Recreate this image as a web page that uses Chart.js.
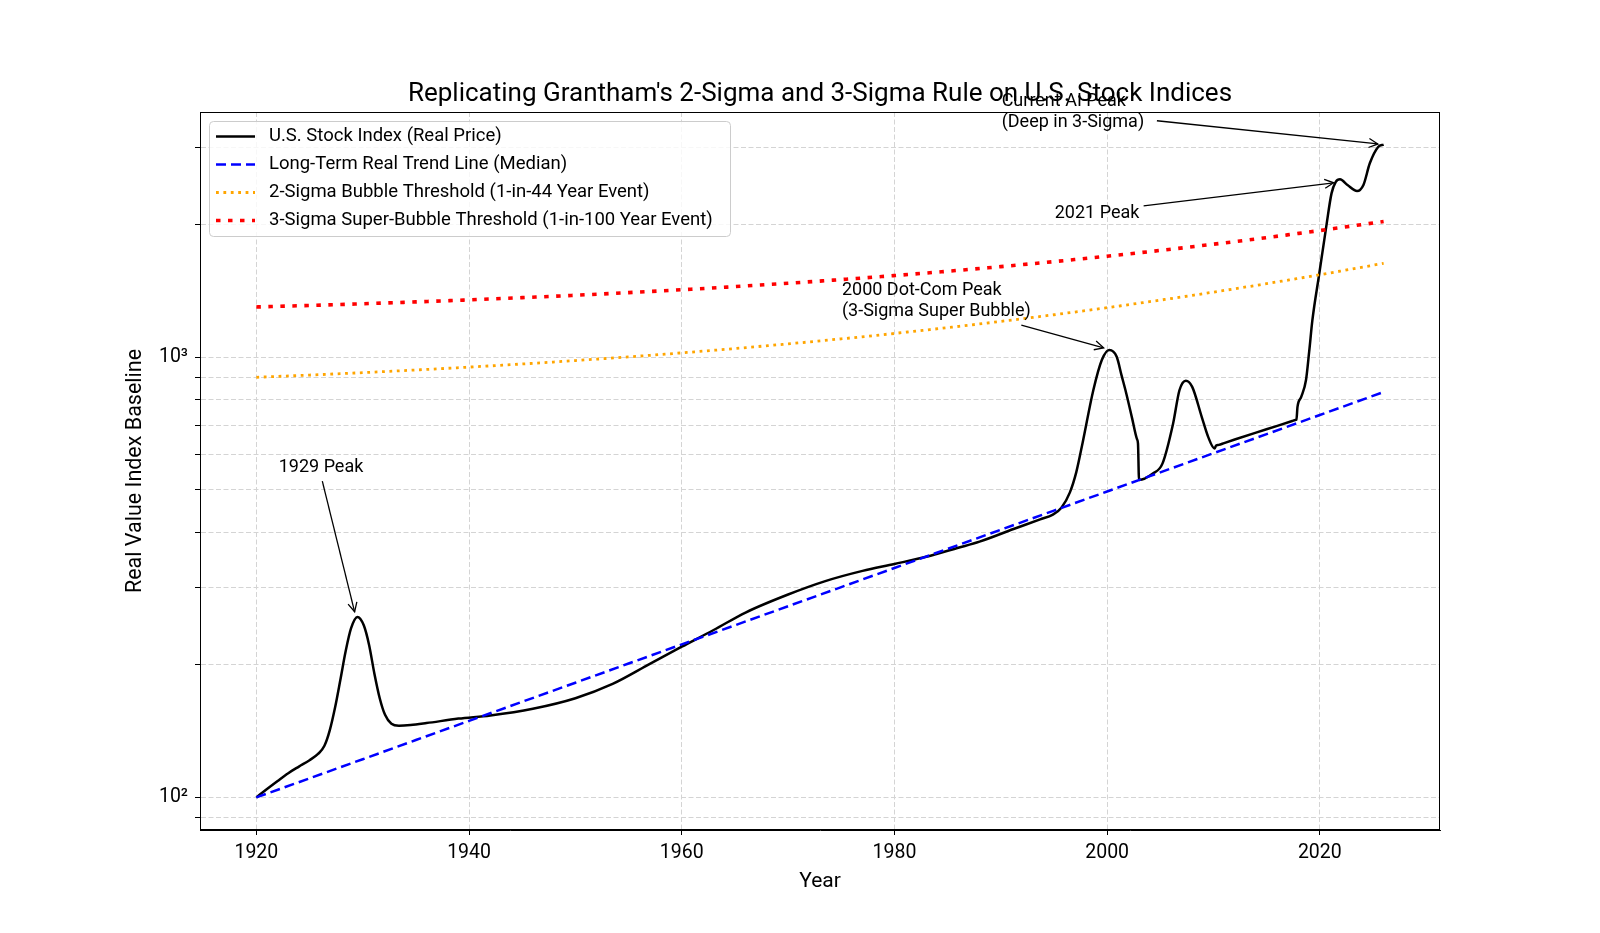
<!DOCTYPE html>
<html>
<head>
<meta charset="utf-8">
<title>Grantham 2-Sigma / 3-Sigma</title>
<script src="https://cdn.jsdelivr.net/npm/chart.js@4.4.0/dist/chart.umd.min.js"></script>
<style>
  html, body { margin: 0; padding: 0; background: #ffffff; }
  canvas { display: block; }
</style>
</head>
<body>
<canvas id="grafico" width="1600" height="933"></canvas>
<script>
// Values

// U.S. stock index (real price)
const indexYears = [1920, 1921, 1922, 1923, 1924, 1925, 1925.8, 1926.4, 1926.9, 1927.4, 1927.9,
  1928.4, 1928.9, 1929.5, 1930.1, 1930.6, 1931.1, 1931.6, 1932.1, 1932.7, 1933.4,
  1934.5, 1936, 1939, 1942, 1946, 1950, 1953.5, 1957, 1960, 1963,
  1966, 1970, 1973.5, 1977, 1980, 1983, 1986, 1988, 1991.2, 1993.7,
  1994.9, 1995.7, 1996.5, 1997.1, 1997.7, 1998.7, 1999.5, 2000.2, 2000.9, 2001.35,
  2001.8, 2002.35, 2002.8, 2002.9, 2003.0, 2004.3, 2005.2, 2006.2, 2006.8, 2007.4,
  2008.0, 2008.9, 2009.5, 2010.1, 2010.25, 2010.5, 2011, 2012, 2014, 2016,
  2017.4, 2017.7, 2017.8, 2017.9, 2018.25, 2018.7, 2019.0, 2019.3, 2019.95, 2020.6,
  2021.1, 2021.5, 2021.9, 2022.6, 2023.5, 2024.1, 2024.7, 2025.5, 2026];
const indexValues = [100, 104.5, 109, 113.5, 117.5, 121.5, 125.5, 131, 142, 160, 185,
  215, 242, 257, 246, 222, 191, 168, 154, 147, 145.5,
  146, 147.5, 151, 153.5, 159, 168, 181, 201, 220, 240,
  263, 289, 310, 327, 339, 352, 369, 381, 407, 428,
  439, 455, 493, 548, 640, 841, 985, 1038, 1002, 910,
  827, 726, 652, 637, 526, 544, 573, 706, 841, 884,
  856, 731, 659, 620, 630, 632, 638, 650, 674, 698,
  716, 720, 721, 771, 812, 887, 1030, 1213, 1549, 1977,
  2355, 2502, 2534, 2461, 2384, 2461, 2756, 3005, 3040];

// Trend line and the two thresholds
const trendYears = [1920, 1925, 1930, 1935, 1940, 1945, 1950, 1955, 1960, 1965, 1970,
  1975, 1980, 1985, 1990, 1995, 2000, 2005, 2010, 2015, 2020, 2026];
const trendValues = [100, 110.5, 122.1, 135.0, 149.2, 164.9, 182.2, 201.4, 222.6, 246.0, 271.8,
  300.4, 332.0, 366.9, 405.5, 448.2, 495.3, 547.4, 605.0, 668.6, 738.9, 833.1];
const twoSigmaValues = [900, 910.5, 922.1, 935.0, 949.2, 964.9, 982.2, 1001.4, 1022.6, 1046.0, 1071.8,
  1100.4, 1132.0, 1166.9, 1205.5, 1248.2, 1295.3, 1347.4, 1405.0, 1468.6, 1538.9, 1633.1];
const threeSigmaValues = [1300, 1310.5, 1322.1, 1335.0, 1349.2, 1364.9, 1382.2, 1401.4, 1422.6, 1446.0, 1471.8,
  1500.4, 1532.0, 1566.9, 1605.5, 1648.2, 1695.3, 1747.4, 1805.0, 1868.6, 1938.9, 2033.1];

// Ticks
const xTickValues = [1920, 1940, 1960, 1980, 2000, 2020];
const yTickValues = [90, 100, 200, 300, 400, 500, 600, 700, 800, 900, 1000, 2000, 3000];
const yTickLabels = { 100: '10²', 1000: '10³' };

// Texts
const chartTitle = "Replicating Grantham's 2-Sigma and 3-Sigma Rule on U.S. Stock Indices";
const seriesNames = [
  'U.S. Stock Index (Real Price)',
  'Long-Term Real Trend Line (Median)',
  '2-Sigma Bubble Threshold (1-in-44 Year Event)',
  '3-Sigma Super-Bubble Threshold (1-in-100 Year Event)'
];

// Annotations, in data coordinates: text anchor, arrow start, arrow tip
const annotations = [
  { lines: ['1929 Peak'], text: [1922.1, 548], from: [1926.2, 523], to: [1929.24, 264] },
  { lines: ['2000 Dot-Com Peak', '(3-Sigma Super Bubble)'], text: [1975.06, 1383], from: [1991.93, 1182], to: [1999.67, 1050] },
  { lines: ['2021 Peak'], text: [1995.07, 2075], from: [2003.43, 2207], to: [2021.3, 2489] },
  { lines: ['Current AI Peak', '(Deep in 3-Sigma)'], text: [1990.08, 3725], from: [2004.68, 3443], to: [2025.46, 3049] }
];

function toPoints(xs, ys) {
  return xs.map((x, i) => ({ x: x, y: ys[i] }));
}

function drawArrow(c, x1, y1, x2, y2) {
  const ang = Math.atan2(y2 - y1, x2 - x1);
  const len = 9, half = 4.5;
  c.beginPath();
  c.moveTo(x1, y1);
  c.lineTo(x2, y2);
  c.stroke();
  const bx = x2 - len * Math.cos(ang), by = y2 - len * Math.sin(ang);
  const nx = -Math.sin(ang) * half, ny = Math.cos(ang) * half;
  c.beginPath();
  c.moveTo(bx + nx, by + ny);
  c.lineTo(x2, y2);
  c.lineTo(bx - nx, by - ny);
  c.stroke();
}

// Frame, title, annotations and legend drawn on top of the chart
const figureExtras = {
  id: 'figureExtras',
  afterDraw(chart) {
    const c = chart.ctx;
    const area = chart.chartArea;
    const xs = chart.scales.x;
    const ys = chart.scales.y;
    c.save();

    // Axes frame (all four sides)
    c.strokeStyle = '#000000';
    c.lineWidth = 1;
    c.setLineDash([]);
    c.strokeRect(area.left + 0.5, area.top + 0.5, area.right - area.left - 1, area.bottom - area.top - 1);

    // Title
    c.fillStyle = '#000000';
    c.font = '26px Roboto';
    c.textAlign = 'center';
    c.textBaseline = 'alphabetic';
    c.fillText(chartTitle, (area.left + area.right) / 2, 101);

    // Annotations
    c.font = '18px Roboto';
    c.textAlign = 'left';
    c.lineWidth = 1.3;
    annotations.forEach(a => {
      const tx = xs.getPixelForValue(a.text[0]);
      const ty = ys.getPixelForValue(a.text[1]);
      a.lines.forEach((line, i) => c.fillText(line, tx, ty + i * 21));
      drawArrow(c,
        xs.getPixelForValue(a.from[0]), ys.getPixelForValue(a.from[1]),
        xs.getPixelForValue(a.to[0]), ys.getPixelForValue(a.to[1]));
    });

    // Legend
    const bx = 209.5, by = 121.5, bw = 521, bh = 115, r = 4;
    c.beginPath();
    c.moveTo(bx + r, by);
    c.arcTo(bx + bw, by, bx + bw, by + bh, r);
    c.arcTo(bx + bw, by + bh, bx, by + bh, r);
    c.arcTo(bx, by + bh, bx, by, r);
    c.arcTo(bx, by, bx + bw, by, r);
    c.closePath();
    c.fillStyle = 'rgba(255,255,255,0.8)';
    c.fill();
    c.strokeStyle = '#cccccc';
    c.lineWidth = 1;
    c.stroke();

    c.font = '18.5px Roboto';
    c.textBaseline = 'middle';
    c.fillStyle = '#000000';
    seriesNames.forEach((name, i) => {
      const ds = chart.data.datasets[i];
      const y = 136.5 + i * 28;
      c.strokeStyle = ds.borderColor;
      c.lineWidth = ds.borderWidth;
      c.setLineDash(ds.borderDash || []);
      c.beginPath();
      c.moveTo(216, y);
      c.lineTo(255, y);
      c.stroke();
      c.setLineDash([]);
      c.fillText(name, 269, y);
    });

    c.restore();
  }
};

Chart.defaults.font.family = 'Roboto, "DejaVu Sans", sans-serif';
Chart.defaults.color = '#000000';

const ctx = document.getElementById('grafico').getContext('2d');
const chart = new Chart(ctx, {

  type: 'line',

  data: {
    datasets: [{
      label: seriesNames[0],
      data: toPoints(indexYears, indexValues),
      borderColor: '#000000',
      borderWidth: 2.5,
      borderJoinStyle: 'round',
      cubicInterpolationMode: 'monotone',
      pointRadius: 0,
      fill: false,
      order: 4
    }, {
      label: seriesNames[1],
      data: toPoints(trendYears, trendValues),
      borderColor: '#0000ff',
      borderWidth: 2.5,
      borderDash: [10, 5],
      pointRadius: 0,
      fill: false,
      order: 3
    }, {
      label: seriesNames[2],
      data: toPoints(trendYears, twoSigmaValues),
      borderColor: '#ffa500',
      borderWidth: 2.8,
      borderDash: [2.8, 4.6],
      cubicInterpolationMode: 'monotone',
      pointRadius: 0,
      fill: false,
      order: 2
    }, {
      label: seriesNames[3],
      data: toPoints(trendYears, threeSigmaValues),
      borderColor: '#ff0000',
      borderWidth: 3.6,
      borderDash: [4.5, 7.5],
      cubicInterpolationMode: 'monotone',
      pointRadius: 0,
      fill: false,
      order: 1
    }]
  },

  options: {
    responsive: false,
    animation: false,
    devicePixelRatio: 1,
    layout: {
      padding: { left: 0, right: 160, top: 112, bottom: 0 }
    },
    plugins: {
      legend: { display: false },
      title: { display: false },
      tooltip: { enabled: false }
    },
    scales: {
      x: {
        type: 'linear',
        min: 1914.7,
        max: 2031.3,
        bounds: 'data',
        afterBuildTicks: scale => { scale.ticks = xTickValues.map(v => ({ value: v })); },
        afterFit: scale => { scale.height = 103; },
        ticks: {
          autoSkip: false,
          maxRotation: 0,
          padding: 6,
          font: { size: 19.5 },
          callback: v => String(v)
        },
        grid: {
          color: '#d4d4d4',
          lineWidth: 1,
          tickLength: 5,
          tickColor: '#000000',
          tickWidth: 1
        },
        border: { display: true, color: '#000000', width: 1, dash: [5, 2.5] },
        title: {
          display: true,
          text: 'Year',
          font: { size: 21 },
          padding: { top: 0, bottom: 39 }
        }
      },
      y: {
        type: 'logarithmic',
        min: 84.33,
        max: 3604,
        bounds: 'data',
        afterBuildTicks: scale => { scale.ticks = yTickValues.map(v => ({ value: v })); },
        afterFit: scale => { scale.width = 200; },
        ticks: {
          autoSkip: false,
          padding: 7,
          font: { size: 19.5 },
          callback: v => yTickLabels[v] || ''
        },
        grid: {
          color: '#d4d4d4',
          lineWidth: 1,
          tickLength: 5,
          tickColor: '#000000',
          tickWidth: 1
        },
        border: { display: true, color: '#000000', width: 1, dash: [5, 2.5] },
        title: {
          display: true,
          text: 'Real Value Index Baseline',
          font: { size: 21.5 },
          padding: { top: 123, bottom: 0 }
        }
      }
    }
  },

  plugins: [figureExtras]
});
</script>
</body>
</html>
